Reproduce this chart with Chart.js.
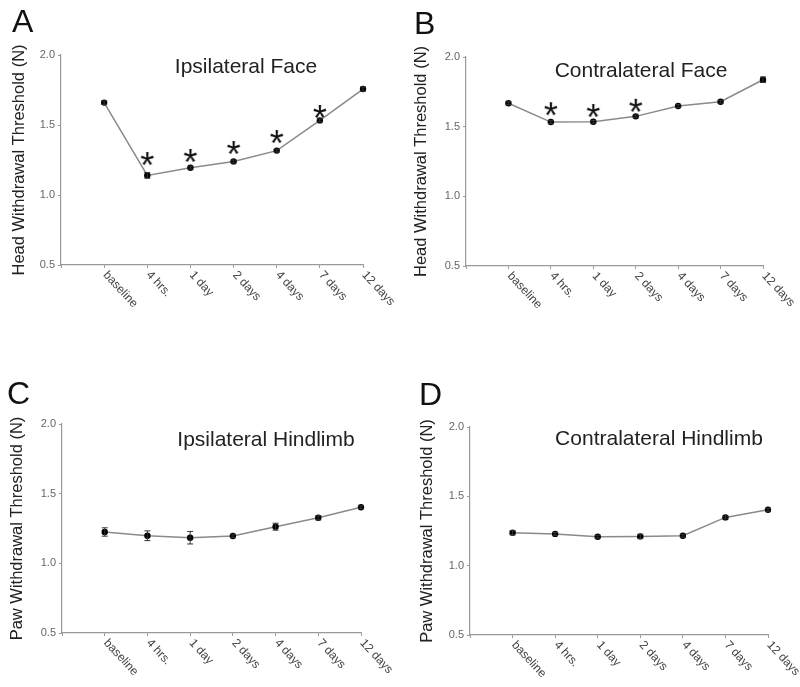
<!DOCTYPE html>
<html>
<head>
<meta charset="utf-8">
<script src="https://cdn.jsdelivr.net/npm/chart.js@4.4.0/dist/chart.umd.min.js"></script>
<style>
  body { margin: 0; background: #fff; }
  #wrap { position: relative; width: 800px; height: 687px; overflow: hidden; }
  canvas { position: absolute; }
  .letter { position: absolute; font: 32px "Liberation Sans", Arial, sans-serif; color: #111; }
</style>
</head>
<body>
<div id="wrap">
  <canvas id="cA" width="400" height="330" style="left:0;top:0"></canvas>
  <canvas id="cB" width="400" height="330" style="left:400px;top:0"></canvas>
  <canvas id="cC" width="400" height="357" style="left:0;top:330px"></canvas>
  <canvas id="cD" width="400" height="357" style="left:400px;top:330px"></canvas>
  <div class="letter" style="left:12px;top:3px">A</div>
  <div class="letter" style="left:414px;top:5px">B</div>
  <div class="letter" style="left:7px;top:375px">C</div>
  <div class="letter" style="left:419px;top:376px">D</div>
</div>
<script>
// time points on the x axis
const timePoints = ['baseline', '4 hrs.', '1 day', '2 days', '4 days', '7 days', '12 days'];
const yTicks = [0.5, 1.0, 1.5, 2.0];

// A - ipsilateral face
const ipsiFace = [1.66, 1.14, 1.195, 1.24, 1.317, 1.533, 1.757];
const ipsiFaceErr = [0.012, 0.02, 0.01, 0.01, 0.01, 0.01, 0.015];
const ipsiFaceStars = [null, 1.257, 1.279, 1.336, 1.414, 1.593, null];

// B - contralateral face
const contraFace = [1.668, 1.533, 1.535, 1.574, 1.648, 1.679, 1.837];
const contraFaceErr = [0.01, 0.01, 0.01, 0.01, 0.01, 0.01, 0.02];
const contraFaceStars = [null, 1.625, 1.612, 1.65, null, null, null];

// C - ipsilateral hindlimb
const ipsiHind = [1.225, 1.198, 1.184, 1.196, 1.263, 1.327, 1.402];
const ipsiHindErr = [0.03, 0.035, 0.045, 0.01, 0.025, 0.015, 0.01];

// D - contralateral hindlimb
const contraHind = [1.238, 1.229, 1.209, 1.211, 1.216, 1.348, 1.403];
const contraHindErr = [0.015, 0.01, 0.01, 0.015, 0.01, 0.01, 0.01];

// asterisk marker drawn once onto a small canvas, glyph centred
function makeStar() {
    const c = document.createElement('canvas');
    c.width = 22; c.height = 22;
    const ctx = c.getContext('2d');
    ctx.fillStyle = '#111';
    ctx.font = '36px "Liberation Sans", Arial, sans-serif';
    ctx.textAlign = 'center';
    ctx.textBaseline = 'alphabetic';
    const m = ctx.measureText('*');
    const mid = (m.actualBoundingBoxAscent - m.actualBoundingBoxDescent) / 2;
    ctx.fillText('*', 11, 11 + mid);
    return c;
}
const starImg = makeStar();

// error bars, rotated x labels and the inner title
const panelDecor = {
    id: 'panelDecor',
    afterDatasetsDraw(chart, args, opts) {
        const ctx = chart.ctx;
        const y = chart.scales.y;
        const meta = chart.getDatasetMeta(0);
        const ds = chart.data.datasets[0];
        ctx.save();
        ctx.strokeStyle = '#333';
        ctx.lineWidth = 1;
        meta.data.forEach((pt, i) => {
            const v = ds.data[i];
            const e = opts.errors[i - 1];
            if (v == null || !e) return;
            const top = y.getPixelForValue(v + e);
            const bot = y.getPixelForValue(v - e);
            ctx.beginPath();
            ctx.moveTo(pt.x, top); ctx.lineTo(pt.x, bot);
            ctx.moveTo(pt.x - 3, top); ctx.lineTo(pt.x + 3, top);
            ctx.moveTo(pt.x - 3, bot); ctx.lineTo(pt.x + 3, bot);
            ctx.stroke();
        });
        ctx.restore();
    },
    afterDraw(chart, args, opts) {
        const ctx = chart.ctx;
        const x = chart.scales.x;
        ctx.save();
        ctx.fillStyle = '#444';
        ctx.font = '12px "Liberation Sans", Arial, sans-serif';
        ctx.textAlign = 'left';
        ctx.textBaseline = 'middle';
        chart.data.labels.forEach((lab, i) => {
            if (!lab) return;
            const px = x.getPixelForTick(i);
            ctx.save();
            ctx.translate(px + 1, x.top + 8);
            ctx.rotate(Math.PI / 4 + 0.04);
            ctx.fillText(lab, 0, 0);
            ctx.restore();
        });
        ctx.fillStyle = '#222';
        ctx.font = '21px "Liberation Sans", Arial, sans-serif';
        ctx.textAlign = 'center';
        ctx.textBaseline = 'middle';
        ctx.fillText(opts.title, opts.tx, opts.ty);
        ctx.restore();
    }
};

function makePanel(id, p) {
    const datasets = [{
        data: [null].concat(p.values),
        borderColor: '#8a8a8a',
        borderWidth: 1.5,
        pointRadius: 3.2,
        pointBackgroundColor: '#000',
        pointBorderColor: '#000',
        pointBorderWidth: 0,
        tension: 0
    }];
    if (p.stars) {
        datasets.push({
            data: [null].concat(p.stars),
            showLine: false,
            pointStyle: starImg,
            pointRadius: 10
        });
    }
    new Chart(document.getElementById(id), {
        type: 'line',
        data: { labels: [''].concat(timePoints), datasets: datasets },
        plugins: [panelDecor],
        options: {
            responsive: false,
            animation: false,
            events: [],
            layout: { padding: { top: p.top, right: p.right, left: 0, bottom: 0 } },
            plugins: {
                legend: { display: false },
                tooltip: { enabled: false },
                panelDecor: { errors: p.errors, title: p.title, tx: p.tx, ty: p.ty }
            },
            scales: {
                x: {
                    offset: false,
                    afterFit(s) { s.height = p.xh; },
                    border: { color: '#999', width: 1.2 },
                    grid: { drawOnChartArea: false, color: '#999', tickLength: 3 },
                    ticks: { display: false }
                },
                y: {
                    min: yTicks[0],
                    max: yTicks[yTicks.length - 1],
                    afterFit(s) { s.width = p.yw; },
                    afterBuildTicks(s) { s.ticks = yTicks.map(v => ({ value: v })); },
                    border: { color: '#999', width: 1.2 },
                    grid: { drawOnChartArea: false, color: '#999', tickLength: 3 },
                    ticks: {
                        color: '#666',
                        font: { size: 11, family: '"Liberation Sans", Arial, sans-serif' },
                        padding: 3,
                        callback: v => v.toFixed(1)
                    },
                    title: {
                        display: true,
                        text: p.yTitle,
                        color: '#222',
                        font: { size: 16.5, family: '"Liberation Sans", Arial, sans-serif' },
                        padding: { top: p.tpad, bottom: 0 }
                    }
                }
            }
        }
    });
}

makePanel('cA', { values: ipsiFace, errors: ipsiFaceErr, stars: ipsiFaceStars,
    yTitle: 'Head Withdrawal Threshold (N)', title: 'Ipsilateral Face', tx: 246, ty: 67,
    top: 55, right: 37, xh: 65, yw: 61, tpad: 10 });
makePanel('cB', { values: contraFace, errors: contraFaceErr, stars: contraFaceStars,
    yTitle: 'Head Withdrawal Threshold (N)', title: 'Contralateral Face', tx: 241, ty: 71,
    top: 57, right: 37, xh: 64, yw: 66, tpad: 12 });
makePanel('cC', { values: ipsiHind, errors: ipsiHindErr,
    yTitle: 'Paw Withdrawal Threshold (N)', title: 'Ipsilateral Hindlimb', tx: 266, ty: 110,
    top: 94, right: 39, xh: 54, yw: 62, tpad: 8 });
makePanel('cD', { values: contraHind, errors: contraHindErr,
    yTitle: 'Paw Withdrawal Threshold (N)', title: 'Contralateral Hindlimb', tx: 259, ty: 109,
    top: 97, right: 32, xh: 52, yw: 70, tpad: 18 });
</script>
</body>
</html>
